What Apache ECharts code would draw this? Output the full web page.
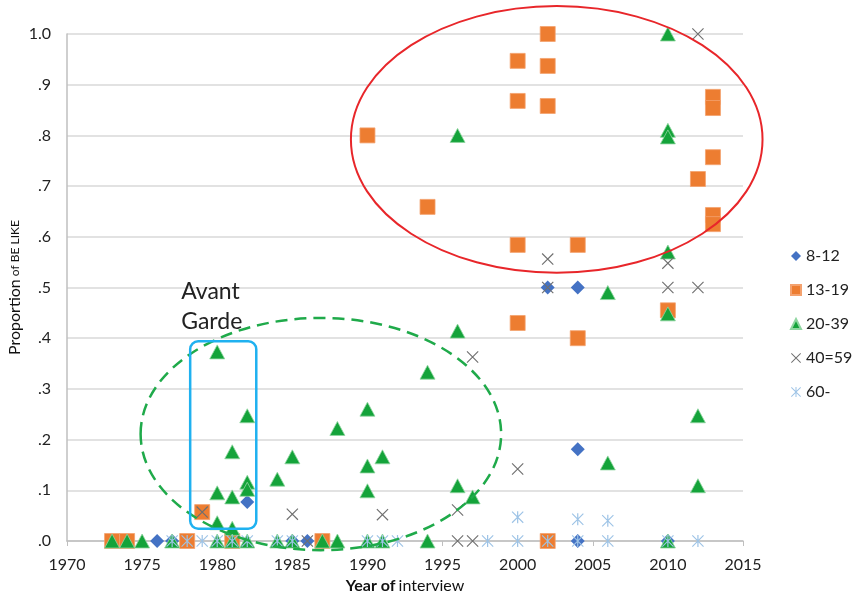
<!DOCTYPE html>
<html><head><meta charset="utf-8">
<script src="https://cdn.jsdelivr.net/npm/echarts@6/dist/echarts.min.js"></script>
<style>html,body{margin:0;padding:0;background:#fff}#c{width:854px;height:599px}</style>
</head><body><div id="c"></div>
<script>
// ---- data (year of interview, proportion of BE LIKE) ----
const seriesNames = ['8-12', '13-19', '20-39', '40=59', '60-'];
const age8to12 = [[1976,0],[1977,0],[1982,0.077],[1985,0],[1986,0],[2002,0.5],[2004,0.5],[2004,0.181],[2004,0],[2010,0]];
const age13to19 = [[1973,0],[1974,0],[1978,0],[1979,0.057],[1981,0],[1987,0],[1990,0.8],[1994,0.659],
  [2000,0.947],[2000,0.868],[2000,0.584],[2000,0.43],[2002,1.0],[2002,0.937],[2002,0.858],[2002,0],
  [2004,0.584],[2004,0.40],[2010,0.455],[2012,0.714],[2013,0.876],[2013,0.854],[2013,0.757],[2013,0.643],[2013,0.625]];
const age20to39 = [[1973,0],[1974,0],[1975,0],[1977,0],[1980,0.373],[1980,0.095],[1980,0.036],[1980,0],
  [1981,0.176],[1981,0.087],[1981,0.025],[1981,0],[1982,0.247],[1982,0.116],[1982,0.102],[1982,0],
  [1984,0.122],[1984,0],[1985,0.166],[1985,0],[1987,0],[1988,0.222],[1988,0],[1990,0.26],[1990,0.148],
  [1990,0.099],[1990,0],[1991,0.166],[1991,0],[1994,0.333],[1994,0],[1996,0.8],[1996,0.414],[1996,0.109],
  [1997,0.087],[2006,0.49],[2006,0.154],[2010,1.0],[2010,0.81],[2010,0.797],[2010,0.57],[2010,0.448],
  [2010,0],[2012,0.247],[2012,0.109]];
const age40to59 = [[1979,0.057],[1985,0.053],[1986,0],[1991,0.052],[1996,0.061],[1996,0],[1997,0.363],[1997,0],
  [2000,0.142],[2002,0.556],[2002,0.5],[2010,0.548],[2010,0.5],[2012,1.0],[2012,0.5]];
const age60plus = [[1977,0],[1978,0],[1979,0],[1980,0],[1981,0],[1982,0],[1984,0],[1985,0],[1990,0],[1991,0],
  [1992,0],[1998,0],[2000,0.047],[2000,0],[2002,0],[2004,0.043],[2004,0],[2006,0.040],[2006,0],[2010,0],[2012,0]];
const yTickLabels = ['.0','.1','.2','.3','.4','.5','.6','.7','.8','.9','1.0'];

// ---- annotation shapes, in data units ----
const redEllipse = {cx: 2002.6, cy: 0.792, rx: 13.7, ry: 0.263};
const greenEllipse = {cx: 1986.9, cy: 0.211, rx: 12.0, ry: 0.229};
const avantBox = {x1: 1978.2, x2: 1982.6, y1: 0.394, y2: 0.024};
const avantLabel = {x: 1977.6, y: 0.521, text: 'Avant\nGarde'};

const FONT = 'Lato, "Open Sans", sans-serif';
const xSym = 'path://M0.8,0L12,11.2L11.2,12L0,0.8Z M11.2,0L12,0.8L0.8,12L0,11.2Z';
const starSym = 'path://M5.4,0L6.6,0L6.6,12L5.4,12Z M0.8,0L12,11.2L11.2,12L0,0.8Z M11.2,0L12,0.8L0.8,12L0,11.2Z';

const chart = echarts.init(document.getElementById('c'), null, {renderer: 'canvas'});
chart.setOption({
  animation: false,
  backgroundColor: '#fff',
  textStyle: {fontFamily: FONT},
  grid: {left: 67, right: 111, top: 34, bottom: 58, containLabel: false, outerBoundsMode: 'none'},
  legend: {
    orient: 'vertical', left: 785, top: 243,
    itemWidth: 10, itemHeight: 10, itemGap: 18,
    textStyle: {fontSize: 16, color: '#222', fontFamily: FONT, lineHeight: 16},
    data: seriesNames
  },
  xAxis: {
    type: 'value', min: 1970, max: 2015, interval: 5,
    name: '{b|Year of} {a|interview}', nameLocation: 'middle', nameGap: 37,
    nameTextStyle: {rich: {
      a: {fontSize: 16, color: '#111', fontFamily: FONT},
      b: {fontSize: 16, color: '#111', fontWeight: 'bold', fontFamily: FONT}
    }},
    axisLine: {show: true, onZero: false, lineStyle: {color: '#bfbfbf', width: 1.5}},
    axisTick: {show: true, inside: false, length: 5, lineStyle: {color: '#bfbfbf'}},
    axisLabel: {fontSize: 16, color: '#222', margin: 16, fontFamily: FONT, formatter: v => String(v)},
    splitLine: {show: false}
  },
  yAxis: {
    type: 'value', min: 0, max: 1, interval: 0.1,
    name: '{a|Proportion} {b|of BE LIKE}', nameLocation: 'middle', nameGap: 44, nameRotate: 90,
    nameMoveOverlap: false,
    nameTextStyle: {rich: {
      a: {fontSize: 16, color: '#111', fontFamily: FONT},
      b: {fontSize: 12, color: '#111', fontFamily: FONT}
    }},
    axisLine: {show: true, lineStyle: {color: '#bfbfbf', width: 1.5}},
    axisTick: {show: false},
    axisLabel: {fontSize: 16, color: '#222', margin: 16, fontFamily: FONT,
      formatter: v => yTickLabels[Math.round(v * 10)]},
    splitLine: {show: true, lineStyle: {color: '#d9d9d9', width: 1.5}}
  },
  series: [
    {name: seriesNames[0], type: 'scatter', data: age8to12, symbol: 'diamond', symbolSize: 14,
     itemStyle: {color: '#4472C4', opacity: 1}},
    {name: seriesNames[1], type: 'scatter', data: age13to19, symbol: 'rect', symbolSize: 15,
     itemStyle: {color: '#ED7D31', borderColor: '#f4a26f', borderWidth: 0.8, opacity: 1}},
    {name: seriesNames[2], type: 'scatter', data: age20to39, symbol: 'triangle', symbolSize: [15, 14],
     itemStyle: {color: '#14A33A', borderColor: '#8fd6a0', borderWidth: 0.8, opacity: 1}},
    {name: seriesNames[3], type: 'scatter', data: age40to59, symbol: xSym, symbolSize: 12,
     itemStyle: {color: '#6f6f6f', opacity: 1}},
    {name: seriesNames[4], type: 'scatter', data: age60plus, symbol: starSym, symbolSize: 12,
     itemStyle: {color: '#9DC3E6', opacity: 1}}
  ]
});

function px(x, y) { return chart.convertToPixel({gridIndex: 0}, [x, y]); }
function ellipseShape(e) {
  const c = px(e.cx, e.cy);
  const r = px(e.cx + e.rx, e.cy + e.ry);
  return {cx: c[0], cy: c[1], rx: Math.abs(r[0] - c[0]), ry: Math.abs(c[1] - r[1])};
}
const b1 = px(avantBox.x1, avantBox.y1), b2 = px(avantBox.x2, avantBox.y2);
const lp = px(avantLabel.x, avantLabel.y);
chart.setOption({
  graphic: [
    {type: 'ellipse', shape: ellipseShape(redEllipse), z: 100,
     style: {fill: 'none', stroke: '#E8262A', lineWidth: 2}},
    {type: 'ellipse', shape: ellipseShape(greenEllipse), z: 100,
     style: {fill: 'none', stroke: '#1FAA4A', lineWidth: 2.5, lineDash: [12, 7]}},
    {type: 'rect', shape: {x: b1[0], y: b1[1], width: b2[0] - b1[0], height: b2[1] - b1[1], r: 8}, z: 100,
     style: {fill: 'none', stroke: '#1FB1F0', lineWidth: 2.5}},
    {type: 'text', x: lp[0], y: lp[1], z: 100,
     style: {text: avantLabel.text, fontSize: 23, lineHeight: 30, fill: '#222', fontFamily: FONT,
             textAlign: 'left', textVerticalAlign: 'top'}}
  ]
});
</script>
</body></html>
